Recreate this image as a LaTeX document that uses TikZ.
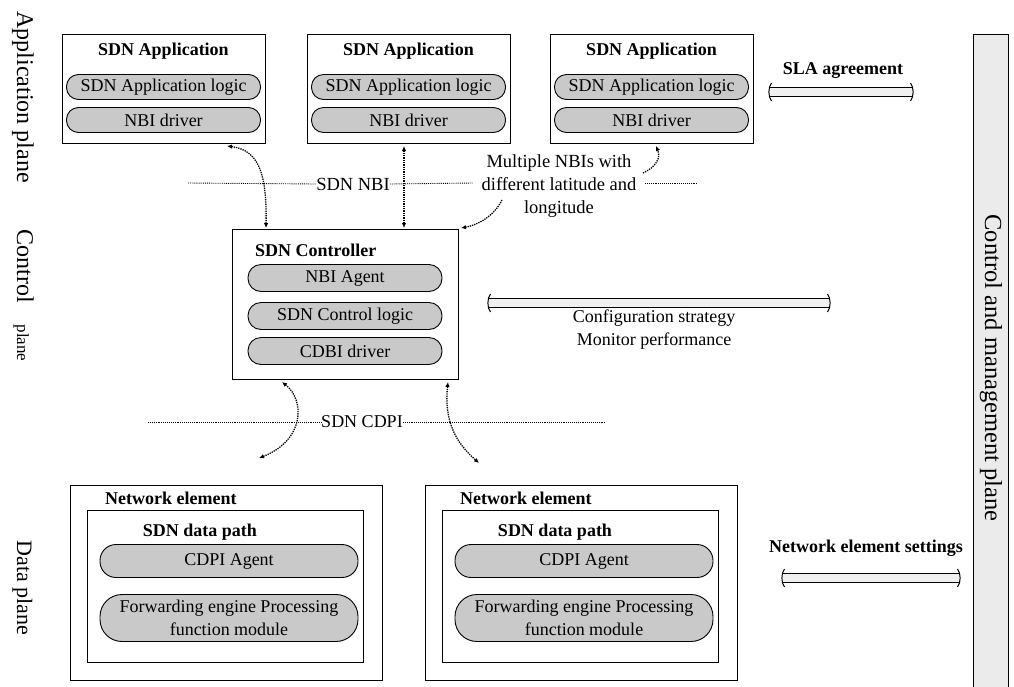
\documentclass[tikz,border=0pt]{standalone}
\usepackage{fontspec}
\setmainfont{Liberation Serif}
\usetikzlibrary{arrows.meta,calc}
\definecolor{pillgray}{gray}{0.79}
\definecolor{hollowgray}{gray}{0.94}
\definecolor{bargray}{gray}{0.92}
\newcommand\fsz{\fontsize{18}{23}\selectfont}
\newcommand\hollowarrow[2]{%
  \fill[hollowgray] ($(#1)+(0,-4.5)$) rectangle ($(#2)+(0,4.5)$);
  \draw[line width=1pt] ($(#1)+(0,-4.5)$) -- ($(#2)+(0,-4.5)$);
  \draw[line width=1pt] ($(#1)+(0,4.5)$) -- ($(#2)+(0,4.5)$);
  \draw[line width=1pt] ($(#1)+(2.5,-9)$) .. controls ($(#1)+(-1,-5)$) and ($(#1)+(-1,5)$) .. ($(#1)+(2.5,9)$);
  \draw[line width=1pt] ($(#2)+(-2.5,-9)$) .. controls ($(#2)+(1,-5)$) and ($(#2)+(1,5)$) .. ($(#2)+(-2.5,9)$);
}
\begin{document}
\begin{tikzpicture}[x=1pt,y=-1pt,
  box/.style={draw, line width=1pt, inner sep=0pt, anchor=north west},
  pill/.style={draw, line width=0.9pt, fill=pillgray, font=\fsz, inner sep=0pt, align=center},
  ttl/.style={font=\fsz\bfseries, inner sep=0pt},
  lbl/.style={font=\fsz, inner sep=0pt, align=center},
  dotl/.style={densely dotted, line width=0.9pt},
  darr/.style={densely dotted, line width=1.3pt, -{Latex[length=5pt,width=4.5pt]}},
  ddarr/.style={densely dotted, line width=1.3pt, {Latex[length=5pt,width=4.5pt]}-{Latex[length=5pt,width=4.5pt]}},
  plane/.style={rotate=-90, anchor=base, inner sep=0pt}
]
\useasboundingbox (0,0) rectangle (1014,686);

% management bar
\node[box, fill=bargray, minimum width=35pt, minimum height=670pt] (mgmt) at (973,34) {};
\node[rotate=-90, font=\fontsize{24.5}{24.5}\selectfont, inner sep=0pt] (mgmtt) at (991,368) {Control and management plane};

% plane labels
\node[plane, font=\fontsize{24}{24}\selectfont] (lapp) at (17,97) {Application plane};
\node[plane, font=\fontsize{24}{24}\selectfont] (lctl) at (17,266) {Control};
\node[plane, font=\fontsize{17}{17}\selectfont] (lctlp) at (17,343) {plane};
\node[plane, font=\fontsize{22}{22}\selectfont] (ldata) at (17,588) {Data plane};

% application boxes
\foreach \i/\x in {1/62,2/307,3/550}{
  \node[box, minimum width=203pt, minimum height=109pt] (app\i) at (\x,34) {};
  \node[ttl] (app\i t) at (\x+101.5,51) {SDN Application};
  \node[pill, minimum width=194pt, minimum height=25pt, rounded corners=12pt] (app\i l) at (\x+101.5,87) {SDN Application logic};
  \node[pill, minimum width=194pt, minimum height=25pt, rounded corners=12pt] (app\i d) at (\x+101.5,120) {NBI driver};
}

% SLA
\coordinate (slaL) at (769,92);
\coordinate (slaR) at (913,92);
\hollowarrow{slaL}{slaR}
\node[ttl] (slat) at (843,71) {SLA agreement};

% controller
\node[box, minimum width=226pt, minimum height=150pt] (ctrl) at (232,229) {};
\node[ttl, anchor=west] (ctrlt) at (255,250) {SDN Controller};
\node[pill, minimum width=194pt, minimum height=27pt, rounded corners=13pt] (nbia) at (345,278) {NBI Agent};
\node[pill, minimum width=194pt, minimum height=27pt, rounded corners=13pt] (scl) at (345,316) {SDN Control logic};
\node[pill, minimum width=194pt, minimum height=27pt, rounded corners=13pt] (cdbi) at (345,351) {CDBI driver};

% configuration
\coordinate (cfgL) at (488,303);
\coordinate (cfgR) at (830,303);
\hollowarrow{cfgL}{cfgR}
\node[lbl] (cfgt) at (654,330) {Configuration strategy\\Monitor performance};

% NBI line
\node[lbl, font=\fontsize{18.5}{23}\selectfont] (nbi) at (353,184) {SDN NBI};
\node[lbl, font=\fontsize{18.5}{23}\selectfont] (multi) at (559,186) {Multiple NBIs with\\different latitude and\\longitude};
\coordinate (nbiA) at (188,183);
\coordinate (nbiB) at (473,183);
\coordinate (nbiC) at (645,183);
\coordinate (nbiD) at (698,183);
\draw[dotl] (nbiA) -- (nbi.west);
\draw[dotl] (nbi.east) -- (nbiB);
\draw[dotl] (nbiC) -- (nbiD);

% NBI arrows
\coordinate (a1s) at (227,146);
\coordinate (a1e) at (266,228);
\draw[ddarr] (a1s) .. controls (258,150) and (267,172) .. (a1e);
\coordinate (a2s) at (404,146);
\coordinate (a2e) at (404,228);
\draw[ddarr] (a2s) -- (a2e);
\coordinate (m1s) at (643,173);
\coordinate (m1e) at (656,146);
\draw[darr] (m1s) .. controls (656,167) and (661,158) .. (m1e);
\coordinate (m2s) at (502,200);
\coordinate (m2e) at (461,228);
\draw[darr] (m2s) .. controls (494,216) and (478,225) .. (m2e);

% CDPI line
\node[lbl] (cdpi) at (362,422) {SDN CDPI};
\coordinate (cdA) at (148,422);
\coordinate (cdB) at (605,422);
\draw[dotl] (cdA) -- (cdpi.west);
\draw[dotl] (cdpi.east) -- (cdB);

% CDPI arrows
\coordinate (c1s) at (282,382);
\coordinate (c1e) at (259,458);
\draw[ddarr] (c1s) .. controls (305,400) and (305,440) .. (c1e);
\coordinate (c2s) at (448,382);
\coordinate (c2e) at (479,463);
\draw[ddarr] (c2s) .. controls (444,420) and (455,442) .. (c2e);

% network elements
\foreach \i/\x in {1/70,2/425}{
  \node[box, minimum width=312pt, minimum height=195pt] (ne\i) at (\x,485) {};
  \node[ttl, anchor=west] (ne\i t) at (\x+35,498) {Network element};
  \node[box, minimum width=276pt, minimum height=152pt] (dp\i) at (\x+17,510) {};
  \node[ttl] (dp\i t) at (\x+130,532) {SDN data path};
  \node[pill, minimum width=258pt, minimum height=33pt, rounded corners=16pt] (cdpia\i) at (\x+159,561) {CDPI Agent};
  \node[pill, minimum width=258pt, minimum height=47pt, rounded corners=22pt] (fwd\i) at (\x+159,618) {Forwarding engine Processing\\function module};
}

% network element settings
\coordinate (nesL) at (782,578);
\coordinate (nesR) at (960,578);
\hollowarrow{nesL}{nesR}
\node[ttl] (nest) at (866,548) {Network element settings};
\end{tikzpicture}
\end{document}
